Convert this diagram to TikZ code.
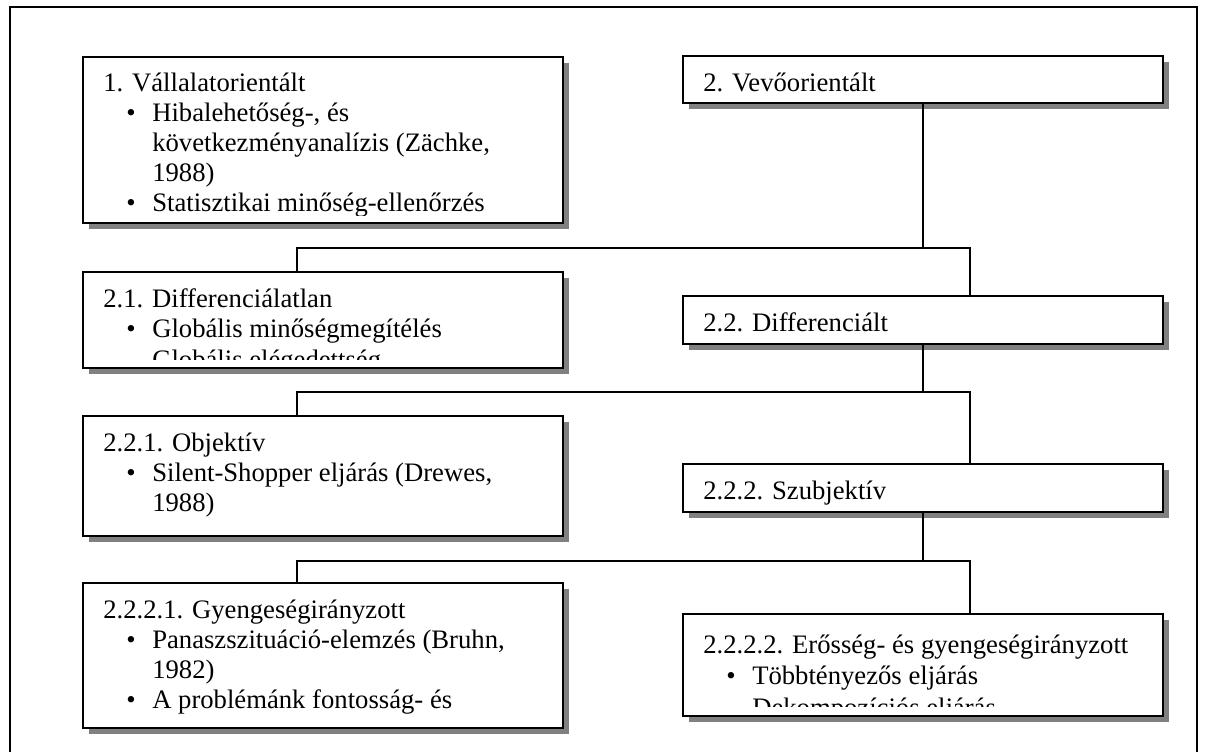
\documentclass[tikz,border=0pt]{standalone}
\usepackage{fontspec}
\setmainfont{Liberation Serif}
\usetikzlibrary{shadows,fit,calc}
\begin{document}
\begin{tikzpicture}[x=0.75pt,y=-0.75pt,
  box/.style={draw=black, line width=1.5pt, fill=white, inner sep=0pt,
    drop shadow={shadow xshift=4.2pt, shadow yshift=-4.2pt, fill=black!50, opacity=1}},
  link/.style={draw=black, line width=1.5pt},
  txt/.style={anchor=base west, inner sep=0pt, font=\fontsize{20}{22.5}\selectfont},
]
\useasboundingbox (0,0) rectangle (1208,751);
\clip (0,0) rectangle (1208,751);

% outer frame (open at the bottom edge of the page)
\draw[line width=1.5pt] (10,770) -- (10,7) -- (1197,7) -- (1197,770);

% ---------- boxes ----------
\node[box, fit={(83,57) (563,223)}]   (b1)    {};
\node[box, fit={(683,56) (1163,103)}] (b2)    {};
\node[box, fit={(83,272) (563,368)}]  (b21)   {};
\node[box, fit={(683,296) (1163,344)}] (b22)  {};
\node[box, fit={(83,416) (563,536)}]  (b221)  {};
\node[box, fit={(683,464) (1163,512)}] (b222) {};
\node[box, fit={(83,583) (563,728)}]  (b2221) {};
\node[box, fit={(683,614) (1163,716)}] (b2222) {};

% ---------- connectors ----------
\coordinate (j1) at (923,248);
\coordinate (j2) at (923,392);
\coordinate (j3) at (923,561);
\draw[link] (b2.south) -- (j1);
\draw[link] ($(b21.north west)+(215,0)$) |- (j1) -| ($(b22.north west)+(288,0)$);
\draw[link] (b22.south) -- (j2);
\draw[link] ($(b221.north west)+(215,0)$) |- (j2) -| ($(b222.north west)+(288,0)$);
\draw[link] (b222.south) -- (j3);
\draw[link] ($(b2221.north west)+(215,0)$) |- (j3) -| ($(b2222.north west)+(288,0)$);

% ---------- texts (clipped to the inner area of each box) ----------
\begin{scope}
  \clip (b1.north west) rectangle ($(b1.south east)+(0,-9)$);
  \node[txt] (b1l1) at (103,91) {1. Vállalatorientált};
  \node[txt] (b1d1) at (126,121) {•};
  \node[txt] (b1l2) at (152,121) {Hibalehetőség-, és};
  \node[txt] (b1l3) at (152,151) {következményanalízis (Zächke,};
  \node[txt] (b1l4) at (152,181) {1988)};
  \node[txt] (b1d2) at (126,211) {•};
  \node[txt] (b1l5) at (152,211) {Statisztikai minőség-ellenőrzés};
\end{scope}

\node[txt] (b2l1) at (703,91) {2. Vevőorientált};

\begin{scope}
  \clip (b21.north west) rectangle ($(b21.south east)+(0,-10)$);
  \node[txt] (b21l1) at (103,307) {2.1. Differenciálatlan};
  \node[txt] (b21d1) at (126,337) {•};
  \node[txt] (b21l2) at (152,337) {Globális minőségmegítélés};
  \node[txt] (b21l3) at (152,368) {Globális elégedettség};
\end{scope}

\node[txt] (b22l1) at (703,331) {2.2. Differenciált};

\begin{scope}
  \clip (b221.north west) rectangle ($(b221.south east)+(0,-9)$);
  \node[txt] (b221l1) at (103,451) {2.2.1. Objektív};
  \node[txt] (b221d1) at (126,481) {•};
  \node[txt] (b221l2) at (152,481) {Silent-Shopper eljárás (Drewes,};
  \node[txt] (b221l3) at (152,511) {1988)};
\end{scope}

\begin{scope}
  \clip (b222.north west) rectangle ($(b222.south east)+(0,-9)$);
  \node[txt] (b222l1) at (703,499) {2.2.2. Szubjektív};
\end{scope}

\begin{scope}
  \clip (b2221.north west) rectangle ($(b2221.south east)+(0,-9)$);
  \node[txt] (b2221l1) at (103,618) {2.2.2.1. Gyengeségirányzott};
  \node[txt] (b2221d1) at (126,648) {•};
  \node[txt] (b2221l2) at (152,648) {Panaszszituáció-elemzés (Bruhn,};
  \node[txt] (b2221l3) at (152,678) {1982)};
  \node[txt] (b2221d2) at (126,708) {•};
  \node[txt] (b2221l4) at (152,708) {A problémánk fontosság- és};
\end{scope}

\begin{scope}
  \clip (b2222.north west) rectangle ($(b2222.south east)+(0,-11)$);
  \node[txt] (b2222l1) at (703,653) {2.2.2.2. Erősség- és gyengeségirányzott};
  \node[txt] (b2222d1) at (726,684) {•};
  \node[txt] (b2222l2) at (752,684) {Többtényezős eljárás};
  \node[txt] (b2222l3) at (752,716) {Dekompozíciós eljárás};
\end{scope}

\end{tikzpicture}
\end{document}
